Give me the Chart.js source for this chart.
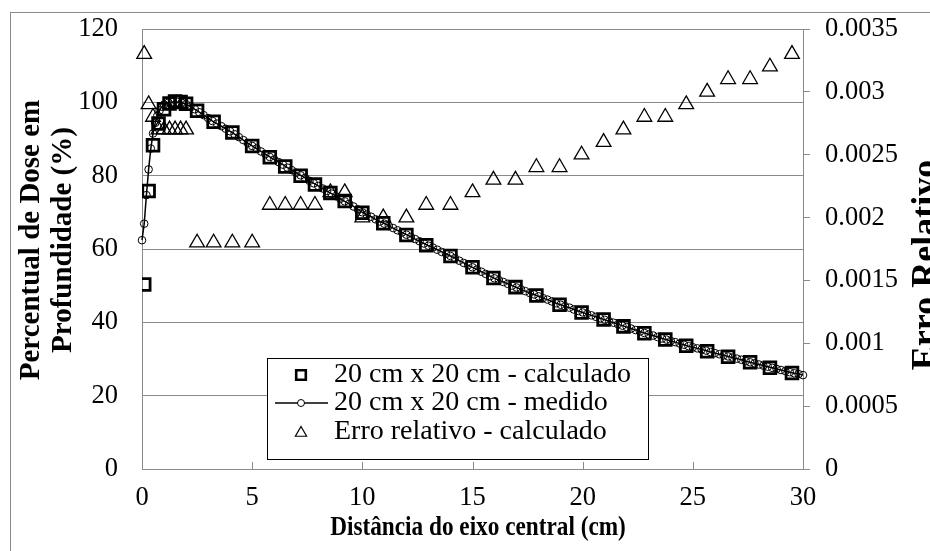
<!DOCTYPE html>
<html>
<head>
<meta charset="utf-8">
<script src="https://cdn.jsdelivr.net/npm/chart.js@4.4.1/dist/chart.umd.min.js"></script>
<style>
  html, body { margin: 0; padding: 0; background: #fff; }
  canvas { display: block; }
</style>
</head>
<body>
<canvas id="chart" width="930" height="551"></canvas>
<script>
// Calculated depth-dose points (20 cm x 20 cm field) and their relative error
const calcDepth = [0.1, 0.3, 0.5, 0.75, 1.0, 1.25, 1.5, 1.75, 2.0, 2.5, 3.25, 4.1, 5.0, 5.8, 6.5, 7.2, 7.85, 8.55, 9.2, 10.0,
  10.95, 12.0, 12.9, 14.0, 15.0, 15.95, 16.95, 17.9, 18.95, 19.95, 20.95, 21.85, 22.8, 23.75, 24.7, 25.65, 26.6, 27.6, 28.5, 29.5];
const calcDose = [50.3, 75.8, 88.3, 94.2, 98.1, 99.7, 100.2, 100.1, 99.6, 97.7, 94.7, 91.8, 88.1, 85.0, 82.5, 80.0, 77.6, 75.3, 73.1, 69.9,
  67.0, 63.8, 61.0, 58.1, 55.0, 52.1, 49.6, 47.3, 44.8, 42.7, 40.8, 38.9, 37.0, 35.3, 33.6, 32.1, 30.6, 29.1, 27.6, 26.2];
const calcError = [0.0033, 0.0029, 0.0028, 0.0027, 0.0027, 0.0027, 0.0027, 0.0027, 0.0027, 0.0018, 0.0018, 0.0018, 0.0018, 0.0021, 0.0021, 0.0021, 0.0021, 0.0022, 0.0022, 0.0020,
  0.0020, 0.0020, 0.0021, 0.0021, 0.0022, 0.0023, 0.0023, 0.0024, 0.0024, 0.0025, 0.0026, 0.0027, 0.0028, 0.0028, 0.0029, 0.0030, 0.0031, 0.0031, 0.0032, 0.0033];

// Measured depth-dose curve
const measDepth = [0, 0.1, 0.2, 0.3, 0.4, 0.5, 0.6, 0.7, 0.8, 0.9,
  1.0, 1.2, 1.4, 1.6, 1.8, 2.0, 2.2, 2.4, 2.6, 2.8, 3.0, 3.2, 3.4, 3.6, 3.8, 4.0, 4.2, 4.4, 4.6, 4.8,
  5.0, 5.2, 5.4, 5.6, 5.8, 6.0, 6.2, 6.4, 6.6, 6.8, 7.0, 7.2, 7.4, 7.6, 7.8, 8.0, 8.2, 8.4, 8.6, 8.8,
  9.0, 9.2, 9.4, 9.6, 9.8, 10.0, 10.2, 10.4, 10.6, 10.8, 11.0, 11.2, 11.4, 11.6, 11.8, 12.0, 12.2, 12.4, 12.6, 12.8,
  13.0, 13.2, 13.4, 13.6, 13.8, 14.0, 14.2, 14.4, 14.6, 14.8, 15.0, 15.2, 15.4, 15.6, 15.8, 16.0, 16.2, 16.4, 16.6, 16.8,
  17.0, 17.2, 17.4, 17.6, 17.8, 18.0, 18.2, 18.4, 18.6, 18.8, 19.0, 19.2, 19.4, 19.6, 19.8, 20.0, 20.2, 20.4, 20.6, 20.8,
  21.0, 21.2, 21.4, 21.6, 21.8, 22.0, 22.2, 22.4, 22.6, 22.8, 23.0, 23.2, 23.4, 23.6, 23.8, 24.0, 24.2, 24.4, 24.6, 24.8,
  25.0, 25.2, 25.4, 25.6, 25.8, 26.0, 26.2, 26.4, 26.6, 26.8, 27.0, 27.2, 27.4, 27.6, 27.8, 28.0, 28.2, 28.4, 28.6, 28.8,
  29.0, 29.2, 29.4, 29.6, 29.8, 30.0];
const measDose = [62.4, 66.9, 74.7, 81.7, 87.4, 91.5, 94.4, 96.4, 97.8, 98.8,
  99.4, 99.9, 100.1, 100.1, 99.9, 99.5, 98.9, 98.1, 97.3, 96.5, 95.7, 94.9, 94.2, 93.5, 92.8, 92.1, 91.3, 90.5, 89.7, 88.9,
  88.1, 87.4, 86.6, 85.9, 85.1, 84.4, 83.7, 83.0, 82.2, 81.5, 80.8, 80.1, 79.4, 78.6, 77.9, 77.2, 76.5, 75.8, 75.1, 74.4,
  73.7, 73.0, 72.3, 71.6, 70.8, 70.0, 69.4, 68.8, 68.1, 67.5, 66.9, 66.3, 65.7, 65.1, 64.5, 63.9, 63.3, 62.7, 62.1, 61.5,
  60.9, 60.4, 59.8, 59.2, 58.7, 58.1, 57.5, 56.8, 56.2, 55.6, 55.0, 54.4, 53.8, 53.2, 52.6, 52.0, 51.5, 51.0, 50.5, 50.0,
  49.5, 49.0, 48.5, 48.0, 47.6, 47.1, 46.6, 46.2, 45.7, 45.2, 44.8, 44.4, 44.0, 43.5, 43.1, 42.7, 42.3, 41.9, 41.5, 41.1,
  40.7, 40.3, 39.9, 39.5, 39.1, 38.7, 38.3, 37.9, 37.5, 37.1, 36.7, 36.4, 36.0, 35.6, 35.3, 34.9, 34.6, 34.2, 33.9, 33.5,
  33.2, 32.9, 32.6, 32.3, 31.9, 31.6, 31.3, 31.0, 30.7, 30.4, 30.1, 29.8, 29.4, 29.1, 28.8, 28.5, 28.2, 27.9, 27.6, 27.3,
  27.0, 26.7, 26.4, 26.1, 25.9, 25.6];

// Axis tick labels
const xTickLabels = ['0', '5', '10', '15', '20', '25', '30'];
const doseTickLabels = ['0', '20', '40', '60', '80', '100', '120'];
const errorTickLabels = ['0', '0.0005', '0.001', '0.0015', '0.002', '0.0025', '0.003', '0.0035'];

const seriesNames = ['20 cm x 20 cm - calculado', '20 cm x 20 cm - medido', 'Erro relativo - calculado'];

const SERIF = "'Liberation Serif', 'Times New Roman', serif";
const AXIS_GREY = '#8a8a8a';
// Plot rectangle in page pixels
const PLOT = { left: 142, right: 803, top: 29, bottom: 469 };

const calcPoints = calcDepth.map((d, i) => ({ x: d, y: calcDose[i] }));
const measPoints = measDepth.map((d, i) => ({ x: d, y: measDose[i] }));
const errorPoints = calcDepth.map((d, i) => ({ x: d, y: calcError[i] }));

// White page plus the thin grey outer frame
const framePlugin = {
  id: 'frame',
  beforeDraw(chart) {
    const ctx = chart.ctx;
    ctx.save();
    ctx.fillStyle = '#fff';
    ctx.fillRect(0, 0, chart.width, chart.height);
    ctx.strokeStyle = AXIS_GREY;
    ctx.lineWidth = 1;
    ctx.strokeRect(10.5, 12.5, chart.width + 20, chart.height + 20);
    ctx.restore();
  }
};

// Short tick marks pointing up into the plot from the depth axis
const innerTicksPlugin = {
  id: 'innerTicks',
  afterDraw(chart) {
    const ctx = chart.ctx;
    const xs = chart.scales.x;
    const bottom = chart.chartArea.bottom;
    ctx.save();
    ctx.strokeStyle = AXIS_GREY;
    ctx.lineWidth = 1;
    xs.ticks.forEach(t => {
      const px = Math.round(xs.getPixelForValue(t.value)) + 0.5;
      ctx.beginPath();
      ctx.moveTo(px, bottom);
      ctx.lineTo(px, bottom - 7);
      ctx.stroke();
    });
    ctx.restore();
  }
};

// Axis titles
const titlesPlugin = {
  id: 'axisTitles',
  afterDraw(chart) {
    const ctx = chart.ctx;
    ctx.save();
    ctx.fillStyle = '#000';
    ctx.textAlign = 'center';
    ctx.textBaseline = 'middle';

    // narrow bold title under the depth axis
    ctx.save();
    ctx.translate(478, 528);
    ctx.scale(0.83, 1);
    ctx.font = 'bold 28px ' + SERIF;
    ctx.fillText('Distância do eixo central (cm)', 0, 0);
    ctx.restore();

    ctx.save();
    ctx.translate(32, 240);
    ctx.rotate(-Math.PI / 2);
    ctx.font = 'bold 29px ' + SERIF;
    ctx.fillText('Percentual de Dose em', 0, 0);
    ctx.fillText('Profundidade (%)', 0, 32);
    ctx.restore();

    ctx.save();
    ctx.translate(927, 265);
    ctx.rotate(-Math.PI / 2);
    ctx.font = 'bold 36px ' + SERIF;
    ctx.fillText('Erro Relativo', 0, 0);
    ctx.restore();

    ctx.restore();
  }
};

// Boxed legend sitting inside the plot area
const legendBoxPlugin = {
  id: 'legendBox',
  afterDraw(chart) {
    const ctx = chart.ctx;
    const box = { x: 267.5, y: 358.5, w: 381, h: 101 };
    const rows = [375, 403, 432];
    const markX = 301;
    ctx.save();
    ctx.fillStyle = '#fff';
    ctx.fillRect(box.x, box.y, box.w, box.h);
    ctx.strokeStyle = '#000';
    ctx.lineWidth = 1;
    ctx.strokeRect(box.x, box.y, box.w, box.h);

    const ds = chart.data.datasets;
    // square marker
    ctx.fillStyle = 'rgba(0,0,0,0)';
    ctx.strokeStyle = '#000';
    ctx.lineWidth = 2.6;
    Chart.helpers.drawPoint(ctx, { pointStyle: 'rect', radius: 6.8, borderWidth: 2.6, rotation: 0 }, markX, rows[0]);

    // line with circle
    ctx.beginPath();
    ctx.lineWidth = 1.4;
    ctx.moveTo(275, rows[1]);
    ctx.lineTo(328, rows[1]);
    ctx.stroke();
    ctx.fillStyle = '#fff';
    ctx.lineWidth = 1;
    Chart.helpers.drawPoint(ctx, { pointStyle: 'circle', radius: 3.5, borderWidth: 1, rotation: 0 }, markX, rows[1]);

    // triangle marker
    ctx.fillStyle = 'rgba(0,0,0,0)';
    ctx.lineWidth = 1.2;
    Chart.helpers.drawPoint(ctx, { pointStyle: 'triangle', radius: 6.5, borderWidth: 1.2, rotation: 0 }, markX, rows[2] + 1);

    ctx.fillStyle = '#000';
    ctx.textAlign = 'left';
    ctx.textBaseline = 'middle';
    ctx.font = '28px ' + SERIF;
    ds.forEach((d, i) => ctx.fillText(d.label, 334, rows[i]));
    ctx.restore();
  }
};

new Chart(document.getElementById('chart'), {
  type: 'scatter',
  data: {
    datasets: [
      {
        label: seriesNames[0],
        data: calcPoints,
        yAxisID: 'y',
        showLine: false,
        pointStyle: 'rect',
        pointRadius: 8.3,
        pointBorderWidth: 2.8,
        pointBorderColor: '#000',
        pointBackgroundColor: 'rgba(0,0,0,0)',
        order: 0
      },
      {
        label: seriesNames[1],
        data: measPoints,
        yAxisID: 'y',
        showLine: true,
        borderColor: '#000',
        borderWidth: 1.5,
        pointStyle: 'circle',
        pointRadius: 3.8,
        pointBorderWidth: 1,
        pointBorderColor: '#000',
        pointBackgroundColor: 'rgba(255,255,255,0)',
        clip: false,
        order: 1
      },
      {
        label: seriesNames[2],
        data: errorPoints,
        yAxisID: 'y2',
        showLine: false,
        pointStyle: 'triangle',
        pointRadius: 8.5,
        pointBorderWidth: 1.3,
        pointBorderColor: '#000',
        pointBackgroundColor: 'rgba(0,0,0,0)',
        clip: false,
        order: 2
      }
    ]
  },
  options: {
    responsive: false,
    animation: false,
    devicePixelRatio: 1,
    layout: { padding: { top: PLOT.top, left: 0, right: 0, bottom: 0 } },
    plugins: { legend: { display: false }, tooltip: { enabled: false } },
    elements: { line: { tension: 0 } },
    scales: {
      x: {
        type: 'linear',
        position: 'bottom',
        min: 0, max: 30,
        ticks: {
          stepSize: 5,
          color: '#000',
          padding: 13,
          font: { family: SERIF, size: 26.5 },
          callback: (v, i) => xTickLabels[i]
        },
        grid: { drawOnChartArea: false, drawTicks: false },
        border: { color: AXIS_GREY, width: 1 },
        afterFit: s => { s.height = 551 - PLOT.bottom; }
      },
      y: {
        type: 'linear',
        position: 'left',
        min: 0, max: 120,
        ticks: {
          stepSize: 20,
          color: '#000',
          padding: 24,
          font: { family: SERIF, size: 26.5 },
          callback: (v, i) => doseTickLabels[i]
        },
        grid: { color: AXIS_GREY, lineWidth: 1, drawTicks: false },
        border: { color: AXIS_GREY, width: 1 },
        afterFit: s => { s.width = PLOT.left; }
      },
      y2: {
        type: 'linear',
        position: 'right',
        min: 0, max: 0.0035,
        ticks: {
          stepSize: 0.0005,
          color: '#000',
          padding: 15,
          font: { family: SERIF, size: 26.5 },
          callback: (v, i) => errorTickLabels[i]
        },
        grid: { drawOnChartArea: false, drawTicks: true, tickLength: 7, color: AXIS_GREY },
        border: { color: AXIS_GREY, width: 1 },
        afterFit: s => { s.width = 930 - PLOT.right; }
      }
    }
  },
  plugins: [framePlugin, innerTicksPlugin, titlesPlugin, legendBoxPlugin, {
    // pin the plot rectangle so the axes line up with the page layout
    id: 'pinArea',
    afterLayout(chart) {
      const a = chart.chartArea;
      if (a.top !== PLOT.top) {
        const shift = PLOT.top - a.top;
        a.top = PLOT.top;
        a.height = a.bottom - a.top;
        ['y', 'y2'].forEach(id => {
          const s = chart.scales[id];
          s.top = PLOT.top;
          s.height = s.bottom - s.top;
          s.configure();
        });
      }
    }
  }]
});
</script>
</body>
</html>
